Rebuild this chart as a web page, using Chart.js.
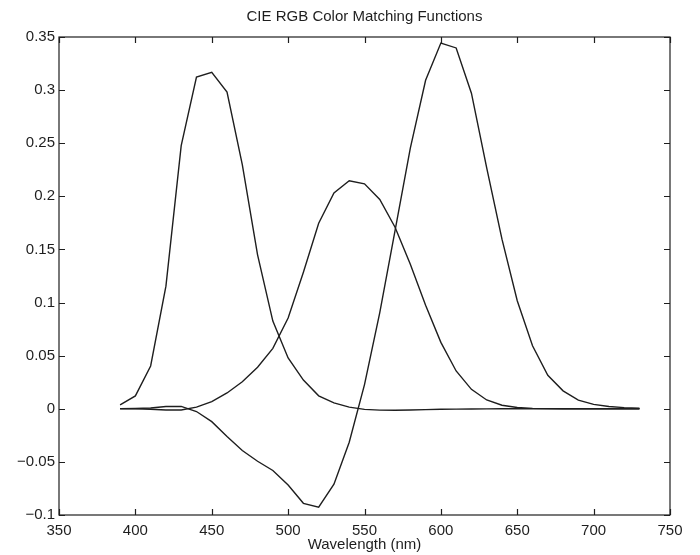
<!DOCTYPE html>
<html>
<head>
<meta charset="utf-8">
<script src="https://cdn.jsdelivr.net/npm/chart.js@4"></script>
<style>
  html,body{margin:0;padding:0;background:#fff;}
  #wrap{width:700px;height:555px;position:relative;}
</style>
</head>
<body>
<div id="wrap"><canvas id="cmf"></canvas></div>
<script>
// wavelengths (nm) and CIE RGB colour matching values
const wavelengths = [390,400,410,420,430,440,450,460,470,480,490,500,510,520,530,540,550,560,570,580,590,600,610,620,630,640,650,660,670,680,690,700,710,720,730];
const rBar = [0.0001,0.0003,0.0008,0.0021,0.0022,-0.0026,-0.0121,-0.0261,-0.0393,-0.0494,-0.0581,-0.0717,-0.0890,-0.0926,-0.0710,-0.0315,0.0228,0.0906,0.1677,0.2453,0.3093,0.3443,0.3397,0.2971,0.2268,0.1597,0.1017,0.0593,0.0315,0.0169,0.0082,0.0041,0.0021,0.0011,0.0005];
const gBar = [0.0000,-0.0001,-0.0004,-0.0011,-0.0012,0.0015,0.0068,0.0149,0.0254,0.0391,0.0569,0.0854,0.1286,0.1747,0.2032,0.2147,0.2118,0.1970,0.1709,0.1361,0.0975,0.0625,0.0356,0.0183,0.0083,0.0033,0.0012,0.0004,0.0001,0.0000,0,0,0,0,0];
const bBar = [0.0036,0.0121,0.0403,0.1154,0.2477,0.3123,0.3167,0.2982,0.2299,0.1449,0.0826,0.0478,0.0270,0.0122,0.0055,0.0015,-0.0006,-0.0013,-0.0014,-0.0011,-0.0008,-0.0005,-0.0003,-0.0002,-0.0001,0,0,0,0,0,0,0,0,0,0];

const xTicks = [350,400,450,500,550,600,650,700,750];
const yTicks = [-0.1,-0.05,0,0.05,0.1,0.15,0.2,0.25,0.3,0.35];
const titleText = "CIE RGB Color Matching Functions";

const ink = "#1e1e1e";
const font = {family:"'Liberation Sans', Arial, sans-serif", size:15};

const pts = arr => wavelengths.map((w,i)=>({x:w,y:arr[i]}));
const lineSet = arr => ({
  data:pts(arr),
  borderColor:ink,
  borderWidth:1.4,
  pointRadius:0,
  tension:0,
  fill:false
});

// box + inward ticks + title centred over the axes, matlab style
const boxPlugin = {
  id:"box",
  afterDraw(c){
    const {ctx, chartArea:a, scales:{x,y}} = c;
    const t = 6;
    ctx.save();
    ctx.strokeStyle = ink;
    ctx.lineWidth = 1.2;
    ctx.strokeRect(a.left, a.top, a.right-a.left, a.bottom-a.top);
    ctx.beginPath();
    xTicks.forEach(v=>{
      const px = Math.round(x.getPixelForValue(v))+0.5;
      ctx.moveTo(px,a.bottom); ctx.lineTo(px,a.bottom-t);
      ctx.moveTo(px,a.top); ctx.lineTo(px,a.top+t);
    });
    yTicks.forEach(v=>{
      const py = Math.round(y.getPixelForValue(v))+0.5;
      ctx.moveTo(a.left,py); ctx.lineTo(a.left+t,py);
      ctx.moveTo(a.right,py); ctx.lineTo(a.right-t,py);
    });
    ctx.stroke();

    ctx.fillStyle = ink;
    ctx.font = `${font.size}px ${font.family}`;
    ctx.textAlign = "center";
    ctx.textBaseline = "middle";
    ctx.fillText(titleText, (a.left+a.right)/2, 17);
    ctx.restore();
  }
};

new Chart(document.getElementById("cmf"),{
  type:"line",
  data:{datasets:[lineSet(rBar), lineSet(gBar), lineSet(bBar)]},
  plugins:[boxPlugin],
  options:{
    responsive:true,
    maintainAspectRatio:false,
    animation:false,
    layout:{padding:{left:0,right:30,top:37,bottom:0}},
    plugins:{
      legend:{display:false},
      tooltip:{enabled:false},
      title:{display:false}
    },
    scales:{
      x:{
        type:"linear",
        min:350, max:750,
        afterBuildTicks:s=>{ s.ticks = xTicks.map(v=>({value:v})); },
        afterFit:s=>{ s.height = 40; },
        grid:{display:false, drawTicks:false},
        border:{display:false},
        ticks:{color:ink, font, padding:7, maxRotation:0, callback:v=>String(v)},
        title:{display:true, text:"Wavelength (nm)", color:ink, font, padding:{top:0,bottom:1}}
      },
      y:{
        type:"linear",
        min:-0.1, max:0.35,
        afterBuildTicks:s=>{ s.ticks = yTicks.map(v=>({value:v})); },
        afterFit:s=>{ s.width = 59; },
        grid:{display:false, drawTicks:false},
        border:{display:false},
        ticks:{color:ink, font, padding:4, callback:v=>{
          const r = Math.round(v*100)/100;
          return r<0 ? "\u2212"+String(-r) : String(r);
        }}
      }
    }
  }
});
</script>
</body>
</html>
